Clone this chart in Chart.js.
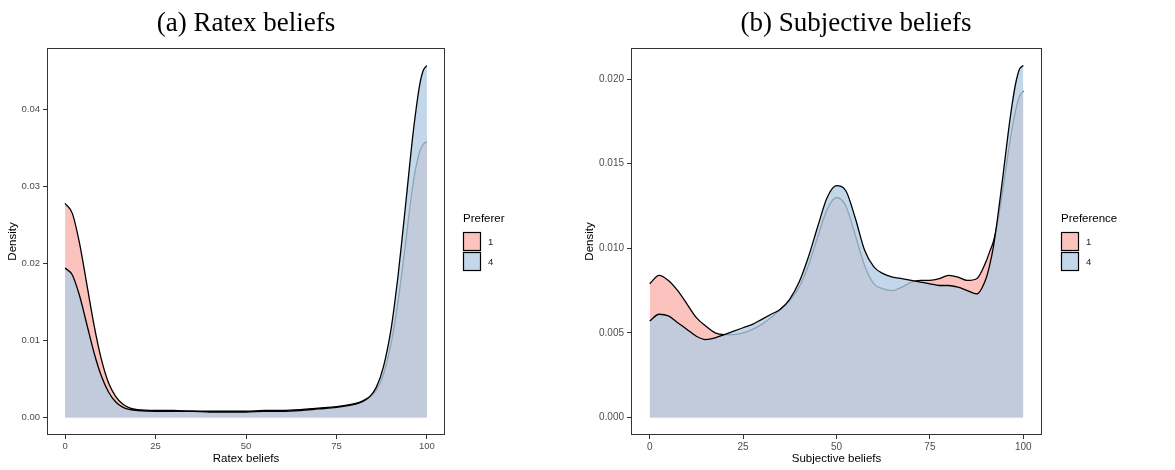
<!DOCTYPE html>
<html>
<head>
<meta charset="utf-8">
<script src="https://cdn.jsdelivr.net/npm/chart.js@4.4.0/dist/chart.umd.min.js"></script>
<style>
  body { margin: 0; background: #fff; }
  #wrap { position: relative; width: 1175px; height: 470px; }
  canvas { position: absolute; top: 0; }
</style>
</head>
<body>
<div id="wrap">
  <canvas id="ratexChart" width="587" height="470" style="left:0"></canvas>
  <canvas id="subjChart" width="597" height="470" style="left:578px"></canvas>
</div>
<script>
// density estimates, preference group 1 vs group 4

// (a) ratex beliefs
const ratexX = [0, 2, 4, 6, 8, 10, 12, 14, 16, 18, 20, 25, 30, 35, 40, 45, 50, 55, 60, 65, 70, 75,
  80, 82, 84, 86, 88, 90, 91, 92, 93, 94, 95, 96, 97, 98, 99, 100];
const ratexPref1 = [0.0278, 0.0265, 0.0226, 0.0173, 0.0120, 0.0076, 0.0045, 0.0027, 0.0017, 0.0012,
  0.0010, 0.0009, 0.0009, 0.0008, 0.0008, 0.0008, 0.0008, 0.0009, 0.0009, 0.0010, 0.0012, 0.0014,
  0.0018, 0.0021, 0.0026, 0.0035, 0.0056, 0.0094, 0.0120, 0.0150, 0.0185, 0.0222, 0.0262, 0.0298,
  0.0326, 0.0345, 0.0355, 0.0358];
const ratexPref4 = [0.0194, 0.0185, 0.0158, 0.0121, 0.0084, 0.0054, 0.0033, 0.0020, 0.0013, 0.0010,
  0.0009, 0.0008, 0.0008, 0.0008, 0.0007, 0.0007, 0.0007, 0.0008, 0.0008, 0.0009, 0.0011, 0.0013,
  0.0017, 0.0020, 0.0026, 0.0039, 0.0066, 0.0112, 0.0145, 0.0183, 0.0226, 0.0271, 0.0317, 0.0362,
  0.0400, 0.0432, 0.0451, 0.0457];
const ratexTicks = [0, 0.01, 0.02, 0.03, 0.04];

// (b) subjective beliefs
const subjX = [0, 2.5, 5, 7.5, 10, 12.5, 15, 17.5, 20, 22.5, 25, 27.5, 30, 32.5, 35, 37.5, 40, 42.5,
  45, 47.5, 50, 52.5, 55, 57.5, 60, 62.5, 65, 67.5, 70, 72.5, 75, 77.5, 80, 82.5, 85, 87.5, 90,
  91, 92, 93, 94, 95, 96, 97, 98, 99, 100];
const subjPref1 = [0.0079, 0.0084, 0.0081, 0.0075, 0.0067, 0.0059, 0.0054, 0.0050, 0.0049, 0.0049,
  0.0050, 0.0052, 0.0055, 0.0059, 0.0064, 0.0069, 0.0077, 0.0090, 0.0107, 0.0123, 0.0130, 0.0125,
  0.0108, 0.0090, 0.0079, 0.0076, 0.0075, 0.0077, 0.0080, 0.0081, 0.0081, 0.0082, 0.0084, 0.0083,
  0.0081, 0.0082, 0.0092, 0.0098, 0.0104, 0.0114, 0.0127, 0.0142, 0.0157, 0.0171, 0.0182, 0.0190,
  0.0193];
const subjPref4 = [0.0057, 0.0061, 0.0060, 0.0056, 0.0052, 0.0048, 0.0046, 0.0047, 0.0049, 0.0051,
  0.0053, 0.0055, 0.0058, 0.0061, 0.0064, 0.0070, 0.0080, 0.0095, 0.0113, 0.0130, 0.0137, 0.0134,
  0.0118, 0.0099, 0.0089, 0.0085, 0.0083, 0.0082, 0.0081, 0.0080, 0.0079, 0.0078, 0.0078, 0.0077,
  0.0075, 0.0073, 0.0082, 0.0090, 0.0101, 0.0116, 0.0133, 0.0151, 0.0169, 0.0185, 0.0198, 0.0206,
  0.0208];
const subjTicks = [0, 0.005, 0.010, 0.015, 0.020];

const beliefTicks = [0, 25, 50, 75, 100];
const groups = ['1', '4'];
const groupFill = ['rgba(251,180,174,0.8)', 'rgba(179,205,227,0.8)'];

Chart.defaults.font.family = '"Liberation Sans", Arial, sans-serif';

// panel title, frame and fill legend
const panelDecor = {
  id: 'panelDecor',
  afterDraw(chart, args, opts) {
    const ctx = chart.ctx;
    const a = chart.chartArea;
    ctx.save();
    ctx.strokeStyle = '#333333';
    ctx.lineWidth = 1;
    ctx.strokeRect(Math.round(a.left) + 0.5, Math.round(a.top) + 0.5,
      Math.round(a.right - a.left) - 1, Math.round(a.bottom - a.top) - 1);

    ctx.fillStyle = '#000';
    ctx.font = '27px "Liberation Serif", "DejaVu Serif", serif';
    ctx.textAlign = 'center';
    ctx.textBaseline = 'alphabetic';
    ctx.fillText(opts.title, opts.titleX, 31);

    // legend
    const lx = opts.legendX;
    ctx.textAlign = 'left';
    ctx.textBaseline = 'middle';
    ctx.font = '11.5px "Liberation Sans", Arial, sans-serif';
    ctx.fillText(opts.legendTitle, lx, 219);
    ctx.font = '9.5px "Liberation Sans", Arial, sans-serif';
    for (let i = 0; i < groups.length; i++) {
      const y = 232 + i * 20;
      ctx.fillStyle = '#fff';
      ctx.fillRect(lx, y, 18, 19);
      ctx.fillStyle = groupFill[i];
      ctx.fillRect(lx, y, 18, 19);
      ctx.strokeStyle = '#000';
      ctx.lineWidth = 1.2;
      ctx.strokeRect(lx + 0.5, y + 0.5, 17, 18);
      ctx.fillStyle = '#1a1a1a';
      ctx.fillText(groups[i], lx + 25, y + 10);
    }
    ctx.restore();
  }
};

function makePanel(canvasId, xs, pref1, pref4, yTicks, decimals, p) {
  const top = Math.max(...pref1, ...pref4);
  const pts = (vals) => xs.map((x, i) => ({ x: x, y: vals[i] }));

  return new Chart(document.getElementById(canvasId), {
    type: 'line',
    data: {
      datasets: [
        {
          label: groups[0],
          data: pts(pref1),
          borderColor: '#000',
          borderWidth: 1.3,
          backgroundColor: groupFill[0],
          fill: 'origin',
          pointRadius: 0,
          cubicInterpolationMode: 'monotone',
          order: 1
        },
        {
          label: groups[1],
          data: pts(pref4),
          borderColor: '#000',
          borderWidth: 1.3,
          backgroundColor: groupFill[1],
          fill: 'origin',
          pointRadius: 0,
          cubicInterpolationMode: 'monotone',
          order: 0
        }
      ]
    },
    options: {
      responsive: false,
      animation: false,
      devicePixelRatio: 1,
      layout: { padding: { left: 0, top: 48, right: p.padRight, bottom: 0 } },
      plugins: {
        legend: { display: false },
        tooltip: { enabled: false },
        panelDecor: p
      },
      scales: {
        x: {
          type: 'linear',
          min: -5,
          max: 105,
          afterBuildTicks: (axis) => { axis.ticks = beliefTicks.map(v => ({ value: v })); },
          afterFit: (axis) => { axis.height = 35; },
          grid: { drawOnChartArea: false, drawTicks: true, tickLength: 4, color: '#333333' },
          border: { display: false },
          ticks: { color: '#4d4d4d', font: { size: p.tickSize }, padding: 2, maxRotation: 0, autoSkip: false },
          title: { display: true, text: p.xTitle, color: '#000', font: { size: 11.5 },
            padding: { top: 0, bottom: 4 } }
        },
        y: {
          min: -top * 0.05,
          max: top * 1.05,
          afterBuildTicks: (axis) => { axis.ticks = yTicks.map(v => ({ value: v })); },
          afterFit: (axis) => { axis.width = p.axisW; },
          grid: { drawOnChartArea: false, drawTicks: true, tickLength: 4, color: '#333333' },
          border: { display: false },
          ticks: { color: '#4d4d4d', font: { size: p.tickSize }, padding: 3,
            callback: (v) => Number(v).toFixed(decimals) },
          title: { display: true, text: 'Density', color: '#000', font: { size: 11.5 },
            padding: { top: p.yTitlePad, bottom: 0 } }
        }
      }
    },
    plugins: [panelDecor]
  });
}

makePanel('ratexChart', ratexX, ratexPref1, ratexPref4, ratexTicks, 2, {
  title: '(a) Ratex beliefs', titleX: 246,
  legendTitle: 'Preferer', legendX: 463,
  xTitle: 'Ratex beliefs',
  axisW: 47, padRight: 142, yTitlePad: 6, tickSize: 9.5
});

makePanel('subjChart', subjX, subjPref1, subjPref4, subjTicks, 3, {
  title: '(b) Subjective beliefs', titleX: 278,
  legendTitle: 'Preference', legendX: 483,
  xTitle: 'Subjective beliefs',
  axisW: 53, padRight: 133, yTitlePad: 5, tickSize: 10
});
</script>
</body>
</html>
